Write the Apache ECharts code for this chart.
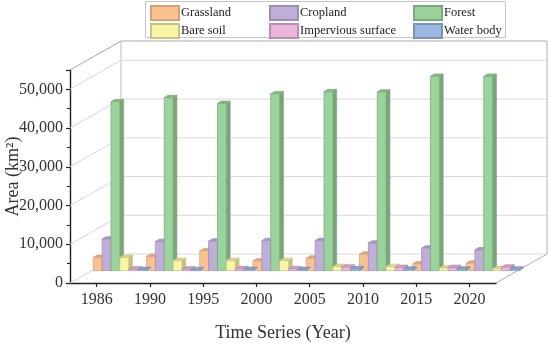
<!DOCTYPE html>
<html><head><meta charset="utf-8">
<style>html,body{margin:0;padding:0;background:#fff}#c{width:550px;height:346px}</style>
<script src="https://cdn.jsdelivr.net/npm/echarts@6/dist/echarts.min.js"></script>
</head><body><div id="c"></div>
<script>
const years = ['1986','1990','1995','2000','2005','2010','2015','2020'];
const grassland = [3400,3650,5100,2500,3200,4250,1750,1900];
const cropland = [8150,7500,7600,7750,7750,7100,5800,5350];
const forest = [43600,44650,43150,45650,46200,46100,50150,50150];
const bareSoil = [3400,2600,2600,2600,1050,1050,700,500];
const impervious = [400,400,500,500,900,800,800,900];
const waterBody = [300,250,300,300,500,400,400,400];
const wallTicks = [0,10000,20000,30000,40000,50000,55000];

const FONT = '"Liberation Serif","Times New Roman",serif';
const DEPTH_X = 51, DEPTH_Y = 29;      // oblique wall offset
const PLANE_X = 23.2, PLANE_Y = 12.4;  // plane the bars stand on
const SIDE_X = 3.8, SIDE_Y = 2.4;      // bar thickness

function shade(hex, f){
  const n = parseInt(hex.slice(1),16);
  const c = [n>>16,(n>>8)&255,n&255].map(v=>Math.round(v*f));
  return `rgb(${c[0]},${c[1]},${c[2]})`;
}
function barSeries(name, values, color, stroke, slot){
  return {
    name, type:'custom', coordinateSystem:'cartesian2d', z:3,
    itemStyle:{color, borderColor:stroke, borderWidth:1},
    data: values.map((v,i)=>[i,v]),
    encode:{x:0,y:1},
    renderItem(params, api){
      const band = api.size([1,0])[0], w = band/6;
      const top = api.coord([api.value(0), api.value(1)]);
      const base = api.coord([api.value(0), 0]);
      const x0 = top[0] - 3.4 + slot*w, x1 = x0 + w;
      const y0 = top[1] - PLANE_Y, y1 = base[1] - PLANE_Y;
      const ls = {stroke, lineWidth:0.7};
      return {type:'group', children:[
        {type:'polygon', shape:{points:[[x1,y0],[x1+SIDE_X,y0-SIDE_Y],[x1+SIDE_X,y1-SIDE_Y],[x1,y1]]},
         style:{fill:shade(color,0.78), ...ls}},
        {type:'polygon', shape:{points:[[x0,y0],[x0+SIDE_X,y0-SIDE_Y],[x1+SIDE_X,y0-SIDE_Y],[x1,y0]]},
         style:{fill:shade(color,0.88), ...ls}},
        {type:'rect', shape:{x:x0,y:y0,width:w,height:y1-y0}, style:{fill:color, ...ls}}
      ]};
    }
  };
}
const wallSeries = {
  name:'walls', type:'custom', coordinateSystem:'cartesian2d', z:1, silent:true,
  data: wallTicks.map(v=>[0,v]), encode:{x:0,y:1},
  renderItem(params, api){
    const g = params.coordSys, v = api.value(1);
    const y = api.coord([0,v])[1], xl = g.x, xr = g.x+g.width;
    const bx = xl+DEPTH_X, by = y-DEPTH_Y;
    const c = (v===55000) ? '#a8a8a8' : '#d9d9d9';
    const children = [
      {type:'polyline', shape:{points:[[xl,y],[bx,by],[xr+DEPTH_X,by]]}, style:{stroke:c, fill:null, lineWidth:1}}
    ];
    if (v===0) children.push({type:'polyline', shape:{points:[[bx,by],[bx,g.y-DEPTH_Y]]}, style:{stroke:'#bdbdbd',fill:null,lineWidth:1}});
    if (v===0) children.push({type:'polyline', shape:{points:[[xr,y],[xr+DEPTH_X,by],[xr+DEPTH_X,g.y-DEPTH_Y]]}, style:{stroke:'#b0b0b0',fill:null,lineWidth:1}});
    return {type:'group', children};
  }
};
const legendBase = {orient:'vertical', top:5, padding:0, itemWidth:28, itemHeight:14, itemGap:2, selectedMode:false, icon:'rect',
  textStyle:{fontFamily:FONT, fontSize:12.5, color:'#222', padding:[0,0,0,-3]}};
const chart = echarts.init(document.getElementById('c'), null, {renderer:'canvas'});
chart.setOption({
  animation:false, backgroundColor:'#fff',
  grid:{left:70, right:54, top:70, bottom:63, outerBoundsMode:'none', containLabel:false},
  legend:[
    {...legendBase, left:150, data:['Grassland','Bare soil']},
    {...legendBase, left:269, data:['Cropland','Impervious surface']},
    {...legendBase, left:413, data:['Forest','Water body']}
  ],
  graphic:[{type:'rect', z:-1, shape:{x:145.5,y:1.5,width:360,height:36}, style:{fill:'#fff',stroke:'#c4c4c4',lineWidth:1}}],
  xAxis:{type:'category', data:years, name:'Time Series (Year)', nameLocation:'middle', nameGap:41, nameMoveOverlap:false,
    nameTextStyle:{fontFamily:FONT, fontSize:18, color:'#333'},
    axisTick:{show:true, alignWithLabel:true, length:4, lineStyle:{color:'#222',width:1.2}},
    axisLine:{lineStyle:{color:'#222',width:1.4}},
    axisLabel:{fontFamily:FONT, fontSize:16, color:'#333', margin:9, interval:0}},
  yAxis:{type:'value', min:0, max:55000, interval:10000, name:'Area (km²)', nameLocation:'middle', nameGap:48, nameMoveOverlap:false,
    nameTextStyle:{fontFamily:FONT, fontSize:18, color:'#333'},
    splitLine:{show:false},
    axisLine:{show:true, lineStyle:{color:'#222',width:1.4}},
    axisTick:{show:true, length:4, lineStyle:{color:'#222',width:1.2}},
    minorTick:{show:true, splitNumber:2, length:3, lineStyle:{color:'#222',width:1}},
    axisLabel:{fontFamily:FONT, fontSize:16, color:'#333', margin:7, padding:[3,0,0,0], showMaxLabel:false,
      formatter:v=>v===55000?'':v.toLocaleString('en-US')}},
  series:[
    wallSeries,
    barSeries('Grassland', grassland, '#fcc18f', '#cfa27c', 0),
    barSeries('Cropland', cropland, '#bfaed8', '#9d90b4', 1),
    barSeries('Forest', forest, '#9cd29c', '#7aa87a', 2),
    barSeries('Bare soil', bareSoil, '#f8f6a4', '#c6c486', 3),
    barSeries('Impervious surface', impervious, '#ebb4da', '#b88fad', 4),
    barSeries('Water body', waterBody, '#9cb9e4', '#7c93b8', 5)
  ]
});
</script></body></html>
